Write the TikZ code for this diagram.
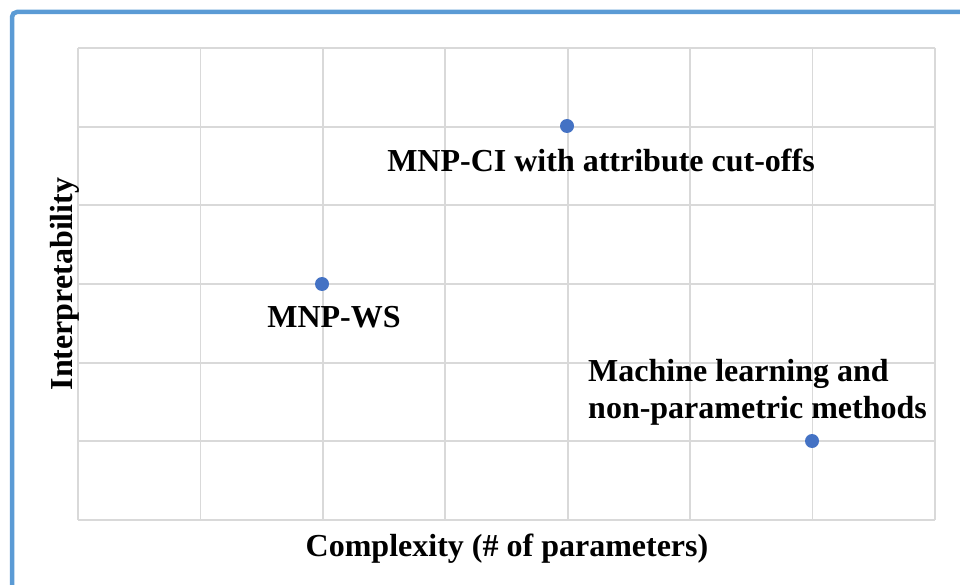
\documentclass[tikz,border=0pt]{standalone}
\usepackage{fontspec}
\setmainfont{Liberation Serif}
\usepackage{tikz}
\definecolor{frameblue}{HTML}{5B9BD5}
\definecolor{dotblue}{HTML}{4472C4}
\definecolor{gridgray}{HTML}{D9D9D9}
\begin{document}
\begin{tikzpicture}[x=1pt,y=-1pt,
                   gridline/.style={draw=gridgray,line width=1.8pt},
                   frameline/.style={draw=frameblue,line width=4.5pt,rounded corners=5pt},
                   dot/.style={circle,fill=dotblue,inner sep=0pt,minimum size=14pt},
                   lbl/.style={font=\fontsize{32}{37}\selectfont\bfseries,inner sep=0pt}]
\useasboundingbox (0,0) rectangle (960,585);
\draw[frameline] (12,590) -- (12,12) -- (965,12);
\foreach \i in {0,...,7} \draw[gridline] (78+122.43*\i,48) -- (78+122.43*\i,520);
\foreach \j in {0,...,6} \draw[gridline] (78,48+78.67*\j) -- (935,48+78.67*\j);
\node[dot] (ws) at (322,284) {};
\node[dot] (ci) at (567,126) {};
\node[dot] (ml) at (812,441) {};
\node[lbl,anchor=base] (wslabel) at (334,327) {MNP-WS};
\node[lbl,anchor=base] (cilabel) at (601,172) {MNP-CI with attribute cut-offs};
\node[lbl,anchor=north west,align=left] (mllabel) at (588,359) {Machine learning and\\non-parametric methods};
\node[lbl,anchor=base] (xlabel) at (507,556) {Complexity (\# of parameters)};
\node[lbl,anchor=base,rotate=90] (ylabel) at (72,284) {Interpretability};
\end{tikzpicture}
\end{document}
